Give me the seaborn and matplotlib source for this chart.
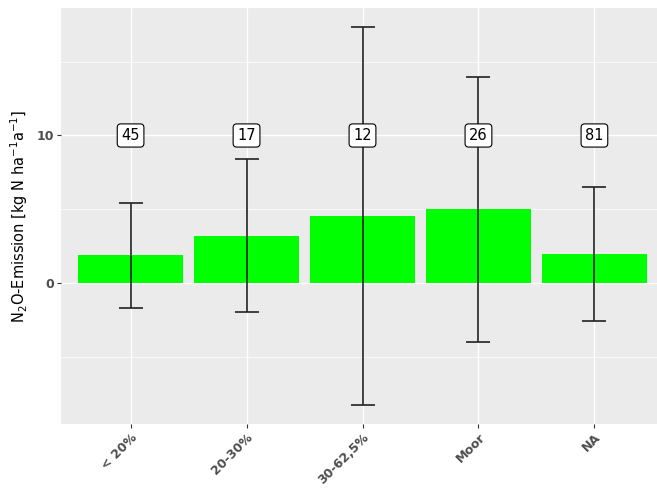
import numpy as np
import pandas as pd
import matplotlib
matplotlib.use("Agg")
import matplotlib.pyplot as plt
import seaborn as sns
from matplotlib.ticker import FixedLocator

# Mean N2O emission per soil class, its standard deviation and sample size
categories = ["< 20%", "20-30%", "30-62,5%", "Moor", "NA"]
means = [1.88, 3.21, 4.55, 5.02, 1.97]
sds = [3.57, 5.17, 12.8, 8.97, 4.52]
counts = [45, 17, 12, 26, 81]

df = pd.DataFrame({"klasse": categories, "mean": means, "sd": sds, "n": counts})

sns.set_theme(style="darkgrid")
plt.rcParams["font.family"] = ["DejaVu Sans"]

fig = plt.figure(figsize=(6.57, 5.04), dpi=100)
fig.patch.set_facecolor("white")
W, H = 657, 504
left, right, top, bottom = 61, 664, 8, 424
ax = fig.add_axes([left / W, 1 - bottom / H, (right - left) / W, (bottom - top) / H])
ax.set_facecolor("#EBEBEB")

sns.barplot(data=df, x="klasse", y="mean", color="#00FF00", saturation=1,
            width=0.9, errorbar=None, ax=ax, zorder=2, linewidth=0,
            edgecolor="none")

xpos = np.arange(len(categories))
ax.errorbar(xpos, df["mean"], yerr=df["sd"], fmt="none", ecolor="#222222",
            elinewidth=1.2, capsize=8.4, capthick=1.2, zorder=3)

for x, n in zip(xpos, df["n"]):
    ax.text(x, 10, str(n), ha="center", va="center", fontsize=10.5, color="black",
            zorder=4,
            bbox=dict(boxstyle="round,pad=0.28,rounding_size=0.25",
                      fc="white", ec="black", lw=0.8))

lo = min(m - s for m, s in zip(means, sds))
hi = max(m + s for m, s in zip(means, sds))
pad = 0.05 * (hi - lo)
ax.set_ylim(lo - pad, hi + pad)
ax.set_xlim(-0.6, len(categories) - 0.4)

ax.yaxis.set_major_locator(FixedLocator([0, 10]))
ax.yaxis.set_minor_locator(FixedLocator([-5, 5, 15]))
ax.grid(which="major", color="white", linewidth=1.0, zorder=0)
ax.grid(which="minor", axis="y", color="white", linewidth=0.5, zorder=0)
ax.set_axisbelow(True)
for s in ax.spines.values():
    s.set_visible(False)

ax.tick_params(axis="both", which="major", left=True, bottom=True, length=3,
               width=0.8, color="#333333", labelsize=9, labelcolor="#4D4D4D", pad=2)
ax.tick_params(axis="y", which="minor", left=False, length=0)
for lab in ax.get_yticklabels():
    lab.set_fontweight("bold")
ax.set_xticks(xpos)
ax.set_xticklabels(categories, rotation=45, ha="right", rotation_mode="anchor",
                   fontweight="bold", color="#4D4D4D", fontsize=9)

ax.set_xlabel("")
ax.set_ylabel(r"N$_2$O-Emission [kg N ha$^{-1}$a$^{-1}$]", fontsize=10.5,
              color="black", labelpad=5)

fig.savefig("out.png", dpi=100, facecolor="white")
